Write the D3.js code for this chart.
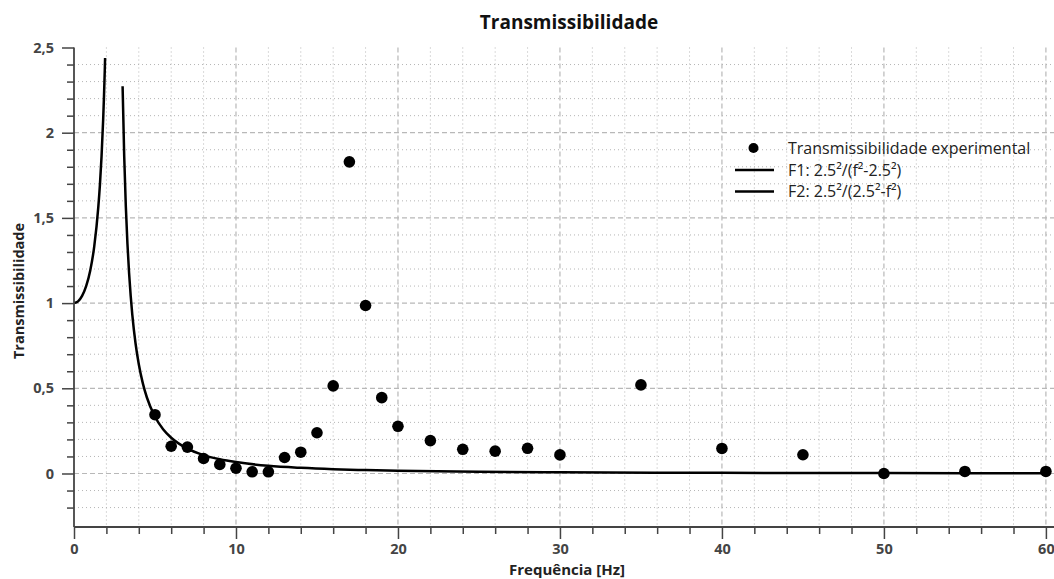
<!DOCTYPE html>
<html>
<head>
<meta charset="utf-8">
<script src="https://cdn.jsdelivr.net/npm/d3@7"></script>
<style>
  body { margin: 0; background: #fff; }
  svg { display: block; font-family: "Open Sans", "DejaVu Sans", sans-serif; }
</style>
</head>
<body>
<svg width="1054" height="579"></svg>
<script>
// Experimental points (frequency in Hz, transmissibility)
var expFreq = [5, 6, 7, 8, 9, 10, 11, 12, 13, 14, 15, 16, 17, 18, 19, 20, 22, 24, 26, 28, 30, 35, 40, 45, 50, 55, 60];
var expValue = [0.345, 0.16, 0.155, 0.088, 0.053, 0.031, 0.01, 0.01, 0.094, 0.125, 0.239, 0.514, 1.829, 0.986, 0.445, 0.277, 0.193, 0.142, 0.131, 0.148, 0.109, 0.52, 0.147, 0.11, 0.0, 0.012, 0.012];

// F1 curve (f > 2.5)
var f1Freq = [3, 3.1, 3.2, 3.3, 3.4, 3.5, 3.6, 3.8, 4, 4.25, 4.5, 5, 5.5, 6, 7, 8, 9, 10, 12, 14, 16, 18, 20, 25, 30, 40, 50, 60];
var f1Value = [2.273, 1.86, 1.566, 1.347, 1.177, 1.042, 0.931, 0.763, 0.641, 0.529, 0.446, 0.333, 0.26, 0.21, 0.146, 0.108, 0.084, 0.067, 0.045, 0.033, 0.025, 0.02, 0.016, 0.01, 0.007, 0.004, 0.0025, 0.0017];

// F2 curve (f < 2.5)
var f2Freq = [0, 0.25, 0.5, 0.75, 1, 1.25, 1.5, 1.6, 1.7, 1.8, 1.85, 1.9, 1.92];
var f2Value = [1, 1.01, 1.042, 1.099, 1.19, 1.333, 1.563, 1.694, 1.86, 2.076, 2.21, 2.367, 2.438];

// Tick values
var xMajor = [0, 10, 20, 30, 40, 50, 60];
var xMinor = [2, 4, 6, 8, 12, 14, 16, 18, 22, 24, 26, 28, 32, 34, 36, 38, 42, 44, 46, 48, 52, 54, 56, 58];
var yMajor = [0, 0.5, 1, 1.5, 2, 2.5];
var yMinor = [-0.2, -0.1, 0.1, 0.2, 0.3, 0.4, 0.6, 0.7, 0.8, 0.9, 1.1, 1.2, 1.3, 1.4, 1.6, 1.7, 1.8, 1.9, 2.1, 2.2, 2.3, 2.4];

var legendLabels = ["Transmissibilidade experimental", "F1: 2.5²/(f²-2.5²)", "F2: 2.5²/(2.5²-f²)"];

var plotLeft = 74, plotRight = 1054, plotTop = 47.5, plotBottom = 527;

var svg = d3.select("svg");

var x = d3.scaleLinear().domain([0, 60.5]).range([plotLeft, plotRight]);
var y = d3.scaleLinear().domain([-0.314, 2.5]).range([plotBottom, plotTop]);

// grid: minor dotted, major dashed
var grid = svg.append("g");
grid.selectAll(".vminor")
    .data(xMinor)
    .enter().append("line")
    .attr("x1", function (d) { return x(d); })
    .attr("x2", function (d) { return x(d); })
    .attr("y1", plotTop).attr("y2", plotBottom)
    .attr("stroke", "#b5b5b5").attr("stroke-width", 1)
    .attr("stroke-dasharray", "1,3");
grid.selectAll(".hminor")
    .data(yMinor)
    .enter().append("line")
    .attr("x1", plotLeft).attr("x2", plotRight)
    .attr("y1", function (d) { return y(d); })
    .attr("y2", function (d) { return y(d); })
    .attr("stroke", "#b5b5b5").attr("stroke-width", 1)
    .attr("stroke-dasharray", "1,3");
grid.selectAll(".vmajor")
    .data(xMajor.filter(function (d) { return d > 0; }))
    .enter().append("line")
    .attr("x1", function (d) { return x(d); })
    .attr("x2", function (d) { return x(d); })
    .attr("y1", plotTop).attr("y2", plotBottom)
    .attr("stroke", "#b8b8b8").attr("stroke-width", 1.2)
    .attr("stroke-dasharray", "5,3");
grid.selectAll(".hmajor")
    .data(yMajor.filter(function (d) { return d < 2.5; }))
    .enter().append("line")
    .attr("x1", plotLeft).attr("x2", plotRight)
    .attr("y1", function (d) { return y(d); })
    .attr("y2", function (d) { return y(d); })
    .attr("stroke", "#b8b8b8").attr("stroke-width", 1.2)
    .attr("stroke-dasharray", "5,3");

// curves
var line = d3.line()
    .x(function (d) { return x(d[0]); })
    .y(function (d) { return y(d[1]); })
    .curve(d3.curveMonotoneX);

svg.append("path")
    .datum(d3.zip(f2Freq, f2Value))
    .attr("d", line)
    .attr("fill", "none").attr("stroke", "#000").attr("stroke-width", 2.5);
svg.append("path")
    .datum(d3.zip(f1Freq, f1Value))
    .attr("d", line)
    .attr("fill", "none").attr("stroke", "#000").attr("stroke-width", 2.5);

// experimental points
svg.append("g").selectAll("circle")
    .data(d3.zip(expFreq, expValue))
    .enter().append("circle")
    .attr("cx", function (d) { return x(d[0]); })
    .attr("cy", function (d) { return y(d[1]); })
    .attr("r", 5.8)
    .attr("fill", "#000");

// axes
var commaFmt = function (d) { return String(d).replace(".", ","); };

var yAxis = svg.append("g")
    .attr("transform", "translate(" + plotLeft + ",0)")
    .call(d3.axisLeft(y).tickValues(yMajor).tickSize(12).tickPadding(8).tickFormat(commaFmt));
svg.append("g")
    .attr("transform", "translate(" + plotLeft + ",0)")
    .call(d3.axisLeft(y).tickValues(yMinor).tickSize(7).tickFormat(""))
    .select(".domain").remove();

var xAxis = svg.append("g")
    .attr("transform", "translate(0," + plotBottom + ")")
    .call(d3.axisBottom(x).tickValues(xMajor).tickSize(12).tickPadding(5).tickFormat(d3.format("d")));
svg.append("g")
    .attr("transform", "translate(0," + plotBottom + ")")
    .call(d3.axisBottom(x).tickValues(xMinor).tickSize(7).tickFormat(""))
    .select(".domain").remove();

svg.selectAll(".tick line").attr("stroke", "#444").attr("stroke-width", 1.5);
svg.selectAll(".domain").attr("stroke", "#444").attr("stroke-width", 1.8);
svg.selectAll(".tick text")
    .attr("font-family", "'Open Sans', sans-serif")
    .attr("font-size", 14.5)
    .attr("font-weight", "bold")
    .attr("fill", "#444");
// plain domain lines without outer ticks
yAxis.select(".domain").attr("d", "M0," + plotTop + "V" + plotBottom);
xAxis.select(".domain").attr("d", "M" + plotLeft + ",0H" + plotRight);

// titles
svg.append("text")
    .attr("x", 569).attr("y", 29)
    .attr("text-anchor", "middle")
    .attr("font-size", 19).attr("font-weight", "bold").attr("fill", "#111")
    .text("Transmissibilidade");
svg.append("text")
    .attr("x", 567).attr("y", 575)
    .attr("text-anchor", "middle")
    .attr("font-size", 15).attr("font-weight", "bold").attr("fill", "#222")
    .text("Frequência [Hz]");
svg.append("text")
    .attr("transform", "translate(24,291) rotate(-90)")
    .attr("text-anchor", "middle")
    .attr("font-size", 14.5).attr("font-weight", "bold").attr("fill", "#222")
    .text("Transmissibilidade");

// legend
var legend = svg.append("g").attr("transform", "translate(735,148)");
var rows = legend.selectAll("g")
    .data(legendLabels)
    .enter().append("g")
    .attr("transform", function (d, i) { return "translate(0," + (i === 0 ? 0 : 22 + (i - 1) * 21.5) + ")"; });
rows.each(function (d, i) {
    var g = d3.select(this);
    if (i === 0) {
        g.append("circle").attr("cx", 18.5).attr("cy", 0).attr("r", 5).attr("fill", "#000");
    } else {
        g.append("line").attr("x1", 0).attr("x2", 39).attr("y1", 0).attr("y2", 0)
            .attr("stroke", "#000").attr("stroke-width", 2.5);
    }
});
rows.append("text")
    .attr("x", 53).attr("y", 0).attr("dy", "0.35em")
    .attr("font-size", 16).attr("fill", "#222")
    .text(function (d) { return d; });
</script>
</body>
</html>
